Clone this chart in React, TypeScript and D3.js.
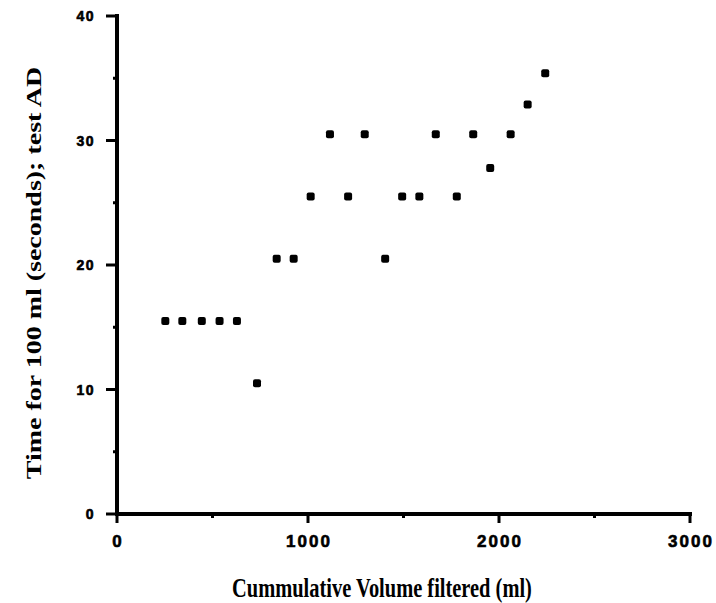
import React from "react";
import * as d3 from "d3";

// Cumulative volume filtered (ml) and time per 100 ml (seconds), test AD
const volumeMl = [
  253, 342, 444, 537, 628, 733, 836, 925, 1014, 1115, 1210,
  1297, 1404, 1493, 1583, 1669, 1779, 1865, 1954, 2061, 2150, 2242,
];
const timeSec = [
  15.5, 15.5, 15.5, 15.5, 15.5, 10.5, 20.5, 20.5, 25.5, 30.5, 25.5,
  30.5, 20.5, 25.5, 25.5, 30.5, 25.5, 30.5, 27.8, 30.5, 32.9, 35.4,
];

const xMajorTicks = [0, 1000, 2000, 3000];
const xMinorTicks = [500, 1500, 2500];
const yMajorTicks = [0, 10, 20, 30, 40];
const yMinorTicks = [5, 15, 25, 35];

const xTitle = "Cummulative Volume filtered (ml)";
const yTitle = "Time for 100 ml (seconds); test AD";

const W = 716;
const H = 603;

export default function App() {
  const x = d3.scaleLinear().domain([0, 3000]).range([117, 690]);
  const y = d3.scaleLinear().domain([0, 40]).range([514, 16]);
  const x0 = x(0);
  const y0 = y(0);
  const points = volumeMl.map((v, i) => ({ v, t: timeSec[i] }));
  const tickFont = "'Liberation Sans', Arial, sans-serif";
  const titleFont = "'Liberation Serif', 'Times New Roman', serif";

  return (
    <svg
      width={W}
      height={H}
      viewBox={`0 0 ${W} ${H}`}
      style={{ position: "absolute", left: 0, top: 0, background: "#fff" }}
    >
      {/* axes */}
      <g stroke="#000" strokeWidth={4} strokeLinecap="square" fill="none">
        <line x1={x0} y1={y(40)} x2={x0} y2={y0} />
        <line x1={x0} y1={y0} x2={x(3000)} y2={y0} />
      </g>

      {/* y ticks */}
      <g stroke="#000" strokeWidth={3}>
        {yMajorTicks.map((t) => (
          <line key={`ym${t}`} x1={x0 - 11} x2={x0} y1={y(t)} y2={y(t)} />
        ))}
        {yMinorTicks.map((t) => (
          <line key={`yn${t}`} x1={x0 - 4} x2={x0} y1={y(t)} y2={y(t)} />
        ))}
      </g>
      <g
        fontFamily={tickFont}
        fontWeight="bold"
        fontSize={14}
        letterSpacing={1.5}
        textAnchor="end"
        stroke="#000"
        strokeWidth={0.6}
      >
        {yMajorTicks.map((t) => (
          <text key={`yl${t}`} x={x0 - 22} y={y(t)} dy="0.36em">
            {t}
          </text>
        ))}
      </g>

      {/* x ticks */}
      <g stroke="#000" strokeWidth={3}>
        {xMajorTicks.map((t) => (
          <line key={`xm${t}`} x1={x(t)} x2={x(t)} y1={y0} y2={y0 + 9} />
        ))}
        {xMinorTicks.map((t) => (
          <line key={`xn${t}`} x1={x(t)} x2={x(t)} y1={y0} y2={y0 + 4} />
        ))}
      </g>
      <g
        fontFamily={tickFont}
        fontWeight="bold"
        fontSize={17}
        letterSpacing={2}
        textAnchor="middle"
        stroke="#000"
        strokeWidth={0.6}
      >
        {xMajorTicks.map((t) => (
          <text key={`xl${t}`} x={x(t) + 1} y={547}>
            {t}
          </text>
        ))}
      </g>

      {/* data points */}
      <g fill="#000">
        {points.map((p, i) => (
          <rect
            key={i}
            x={x(p.v) - 4}
            y={y(p.t) - 4}
            width={8}
            height={8}
            rx={2}
          />
        ))}
      </g>

      {/* axis titles, set in a narrowed serif */}
      <text
        transform="translate(382, 597) scale(0.73, 1)"
        textAnchor="middle"
        fontFamily={titleFont}
        fontSize={28}
        fontWeight="bold"
      >
        {xTitle}
      </text>
      <text
        transform="translate(41, 273) scale(0.78, 1) rotate(-90)"
        textAnchor="middle"
        fontFamily={titleFont}
        fontSize={28}
        fontWeight="bold"
      >
        {yTitle}
      </text>
    </svg>
  );
}
